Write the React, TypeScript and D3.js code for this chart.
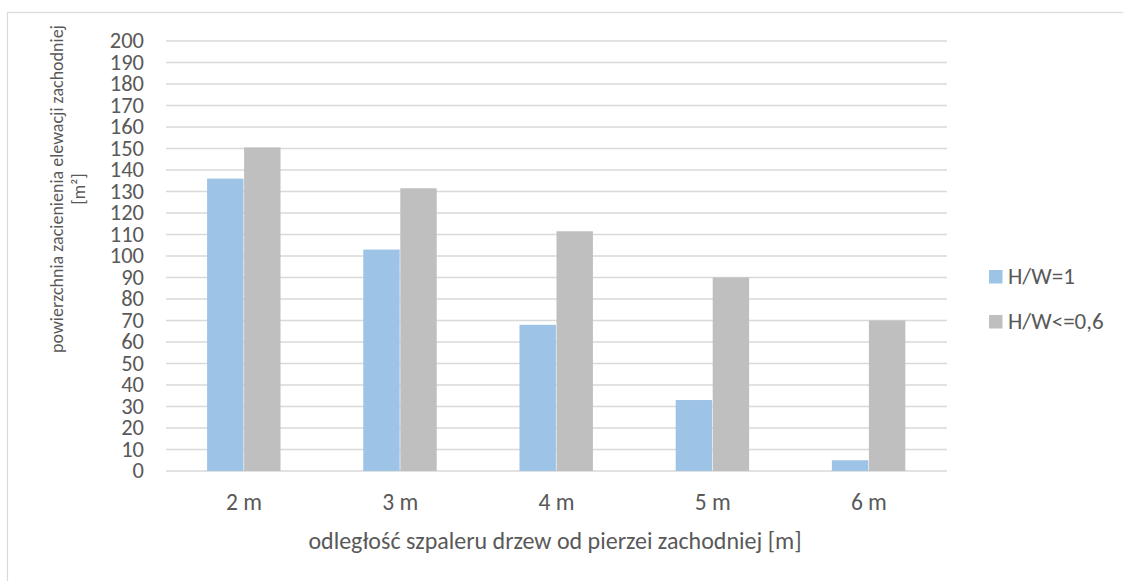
import * as d3 from "d3";

const categories = ["2 m", "3 m", "4 m", "5 m", "6 m"];
const seriesNames = ["H/W=1", "H/W<=0,6"];
const hw1 = [136, 103, 68, 33, 5];
const hw06 = [150.5, 131.5, 111.5, 90, 70];
const yTicks = d3.range(0, 201, 10);
const colors = ["#9DC3E6", "#BFBFBF"];

const W = 1123;
const H = 581;
const FONT = "Carlito, Calibri, Lato, sans-serif";
const TEXT = "#595959";

export default function App() {
  const x0 = d3.scaleBand<string>().domain(categories).range([166, 947]);
  const x1 = d3
    .scaleBand<string>()
    .domain(seriesNames)
    .range([0, x0.bandwidth()])
    .paddingInner(0)
    .paddingOuter(1.11);
  const y = d3.scaleLinear().domain([0, 200]).range([471, 41]);
  const values = [hw1, hw06];

  return (
    <svg
      width={W}
      height={H}
      style={{ position: "absolute", left: 0, top: 0, background: "#fff" }}
      fontFamily={FONT}
    >
      <rect x={7.5} y={12.5} width={W + 10} height={H + 10} fill="#fff" stroke="#D9D9D9" strokeWidth={1.2} />

      {yTicks.map((t) => (
        <g key={t}>
          <line x1={166} x2={947} y1={y(t)} y2={y(t)} stroke="#D9D9D9" strokeWidth={1.3} />
          <text x={144} y={y(t) + 7.2} textAnchor="end" fontSize={22.5} fill={TEXT}>
            {t}
          </text>
        </g>
      ))}

      {categories.map((c, i) => (
        <g key={c}>
          {seriesNames.map((s, j) => (
            <rect
              key={s}
              x={(x0(c) ?? 0) + (x1(s) ?? 0)}
              y={y(values[j][i])}
              width={x1.bandwidth() - 0.6}
              height={y(0) - y(values[j][i])}
              fill={colors[j]}
            />
          ))}
          <text
            x={(x0(c) ?? 0) + x0.bandwidth() / 2}
            y={510}
            textAnchor="middle"
            fontSize={23.5}
            fill={TEXT}
          >
            {c}
          </text>
        </g>
      ))}

      <text x={555} y={549} textAnchor="middle" fontSize={24} fill={TEXT}>
        odległość szpaleru drzew od pierzei zachodniej [m]
      </text>

      <g transform="translate(63,189) rotate(-90)">
        <text x={0} y={0} textAnchor="middle" fontSize={18} fill={TEXT}>
          powierzchnia zacienienia elewacji zachodniej
        </text>
        <text x={0} y={22} textAnchor="middle" fontSize={18} fill={TEXT}>
          [m²]
        </text>
      </g>

      {seriesNames.map((s, j) => (
        <g key={s} transform={`translate(989,${270 + j * 45})`}>
          <rect x={0} y={0} width={13.5} height={13.5} fill={colors[j]} />
          <text x={19} y={6.75 + 7.5} fontSize={23} fill={TEXT}>
            {s}
          </text>
        </g>
      ))}
    </svg>
  );
}
